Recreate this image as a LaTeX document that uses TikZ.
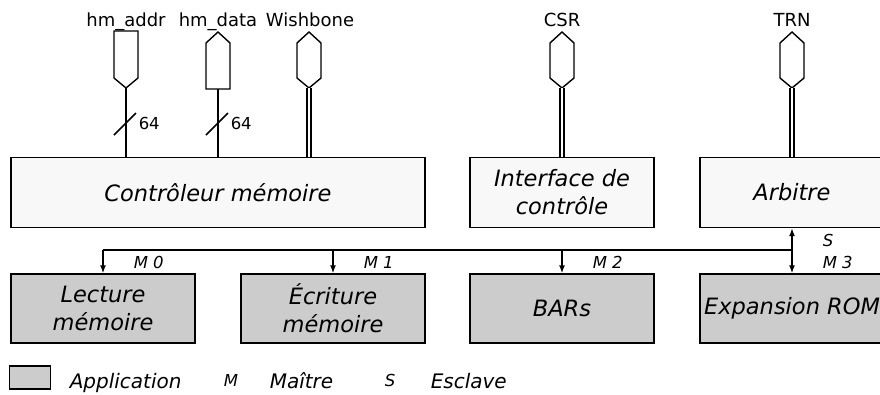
\documentclass[tikz,border=0pt]{standalone}
\usepackage{fontspec}
\setmainfont{DejaVu Sans}
\usetikzlibrary{arrows.meta}
\definecolor{toplight}{HTML}{F8F8F8}
\definecolor{appgray}{HTML}{CCCCCC}
\begin{document}
\begin{tikzpicture}[x=1pt,y=-1pt,line width=1.5pt,
  blockbox/.style={draw,line width=1.4pt,inner sep=0pt,align=center,minimum width=184pt,
    font=\fontsize{22.5}{28}\selectfont\itshape},
  topblock/.style={blockbox,fill=toplight,minimum height=70pt},
  appblock/.style={blockbox,fill=appgray,minimum height=69pt},
  portshape/.style={line width=1.4pt,fill=white},
  portlabel/.style={anchor=base,inner sep=0pt,font=\fontsize{18}{20}\selectfont},
  smalllabel/.style={anchor=base west,inner sep=0pt,font=\fontsize{16.5}{18}\selectfont\itshape},
  legendtext/.style={anchor=base west,inner sep=0pt,font=\fontsize{20}{22}\selectfont\itshape},
  widthlabel/.style={anchor=base west,inner sep=0pt,font=\fontsize{16.5}{19}\selectfont},
  dbl/.style={line width=1.3pt,double,double distance=2.8pt},
  tip/.style={-{Latex[length=8pt,width=6pt]}},
  tips/.style={{Latex[length=8pt,width=6pt]}-{Latex[length=8pt,width=6pt]}}]
\useasboundingbox (0,0) rectangle (880,394);
\clip (0,0) rectangle (880,394);

% blocks
\node[topblock,minimum width=414pt] (ctrl) at (218,192.5) {Contrôleur mémoire};
\node[topblock] (iface) at (562,192.5) {Interface de\\contrôle};
\node[topblock] (arb) at (792,192.5) {Arbitre};
\node[appblock] (lect) at (103,308.5) {Lecture\\mémoire};
\node[appblock] (ecr) at (333,308.5) {Écriture\\mémoire};
\node[appblock] (bars) at (562,308.5) {BARs};
\node[appblock] (rom) at (792,308.5) {Expansion ROM};

% ports
\draw[portshape] (114,31) -- (138,31) -- (138,78) -- (126,88) -- (114,78) -- cycle;
\coordinate (addrP) at (126,88);
\draw[portshape] (218,32) -- (230,43) -- (230,89) -- (206,89) -- (206,43) -- cycle;
\coordinate (dataP) at (218,89);
\draw[portshape] (309,32) -- (321,43) -- (321,78) -- (309,88) -- (297,78) -- (297,43) -- cycle;
\coordinate (wbP) at (309,88);
\draw[portshape] (562,32) -- (574,43) -- (574,78) -- (562,88) -- (550,78) -- (550,43) -- cycle;
\coordinate (csrP) at (562,88);
\draw[portshape] (792,32) -- (804,43) -- (804,78) -- (792,88) -- (780,78) -- (780,43) -- cycle;
\coordinate (trnP) at (792,88);

\node[portlabel] (laddr) at (126,26) {hm\_addr};
\node[portlabel] (ldata) at (218,26) {hm\_data};
\node[portlabel] (lwb) at (310,26) {Wishbone};
\node[portlabel] (lcsr) at (562,26) {CSR};
\node[portlabel] (ltrn) at (792,26) {TRN};

% port connections
\draw (addrP) -- (addrP |- ctrl.north);
\draw (dataP) -- (dataP |- ctrl.north);
\draw[dbl] (wbP) -- (wbP |- ctrl.north);
\draw[dbl] (csrP) -- (iface.north);
\draw[dbl] (trnP) -- (arb.north);

% bus width marks
\draw (114,135) -- (136,113);
\draw (206,135) -- (228,113);
\node[widthlabel] (w1) at (138,129) {64};
\node[widthlabel] (w2) at (230,129) {64};

% internal bus
\coordinate (busL) at (103,250);
\coordinate (busR) at (792,250);
\draw (busL) -- (busR);
\draw[tip] (busL) -- (lect.north);
\draw[tip] (ecr.north |- busL) -- (ecr.north);
\draw[tip] (bars.north |- busL) -- (bars.north);
\draw[tips] (arb.south) -- (rom.north);

\node[smalllabel] (m0) at (133,268) {M 0};
\node[smalllabel] (m1) at (363,268) {M 1};
\node[smalllabel] (m2) at (592,268) {M 2};
\node[smalllabel] (s3) at (822,246) {S};
\node[smalllabel] (m3) at (822,268) {M 3};

% legend
\node[draw,line width=1.4pt,fill=appgray,inner sep=0pt,minimum width=41pt,minimum height=23pt] (leg) at (30,377.5) {};
\node[legendtext] (lapp) at (69,388) {Application};
\node[smalllabel] (lm) at (223,386) {M};
\node[legendtext] (lmt) at (269,388) {Maître};
\node[smalllabel] (ls) at (384,386) {S};
\node[legendtext] (lesc) at (430,388) {Esclave};
\end{tikzpicture}
\end{document}
